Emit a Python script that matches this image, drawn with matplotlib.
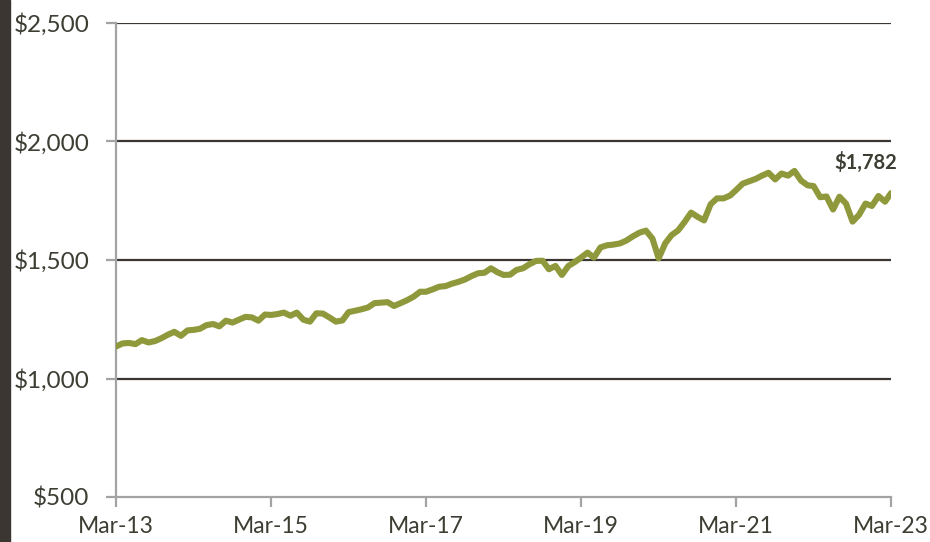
import matplotlib
matplotlib.use("Agg")
import matplotlib.pyplot as plt
import matplotlib.patches as mpatches
import numpy as np
import pandas as pd

# Monthly values, Mar-2013 .. Mar-2023
values = [
    1135, 1148, 1150, 1145, 1162, 1152, 1158, 1170, 1185, 1197,
    1180, 1203, 1205, 1210, 1225, 1230, 1220, 1244, 1236, 1248,
    1260, 1258, 1244, 1270, 1268, 1272, 1278, 1265, 1278, 1248,
    1240, 1275, 1274, 1258, 1240, 1245, 1280, 1286, 1292, 1300,
    1318, 1320, 1322, 1306, 1318, 1330, 1345, 1366, 1366, 1376,
    1387, 1390, 1400, 1408, 1418, 1432, 1444, 1446, 1465, 1448,
    1437, 1438, 1458, 1465, 1482, 1496, 1497, 1461, 1475, 1437,
    1475, 1492, 1510, 1531, 1510, 1553, 1562, 1565, 1570, 1582,
    1600, 1615, 1624, 1590, 1507, 1570, 1605, 1625, 1660, 1700,
    1682, 1667, 1735, 1760, 1760, 1772, 1795, 1822, 1832, 1842,
    1856, 1868, 1840, 1865, 1856, 1876, 1835, 1815, 1812, 1765,
    1768, 1713, 1767, 1738, 1662, 1690, 1738, 1728, 1770, 1746,
    1782,
]
dates = pd.date_range("2013-03-01", periods=len(values), freq="MS")
x_tick_labels = ["Mar-13", "Mar-15", "Mar-17", "Mar-19", "Mar-21", "Mar-23"]
x_tick_dates = pd.to_datetime(["2013-03-01", "2015-03-01", "2017-03-01",
                               "2019-03-01", "2021-03-01", "2023-03-01"])
y_ticks = [500, 1000, 1500, 2000, 2500]
end_label = "$1,782"

plt.rcParams['font.family'] = ['Lato', 'DejaVu Sans']

W, H = 930, 542
fig = plt.figure(figsize=(W / 100, H / 100), dpi=100)
ax = fig.add_axes([116 / W, 1 - 497 / H, (891 - 116) / W, (497 - 23) / H])

# dark strip at the left edge
fig.patches.append(mpatches.Rectangle((0, 0), 10 / W, 1, transform=fig.transFigure,
                                      color="#3b3631", zorder=0))

text_color = "#3d3d33"
grid_color = "#3b3631"
axis_gray = "#a3a3a3"

for yv in y_ticks[1:]:
    ax.axhline(yv, color=grid_color, lw=1.6, zorder=1)

ax.plot(dates, values, color="#8f993c", lw=4.4, solid_joinstyle="round",
        solid_capstyle="round", zorder=3)

ax.set_xlim(dates[0], dates[-1])
ax.set_ylim(500, 2500)
ax.set_yticks(y_ticks)
ax.set_yticklabels([f"${v:,}" for v in y_ticks])
ax.set_xticks(x_tick_dates)
ax.set_xticklabels(x_tick_labels)

for s in ["top", "right"]:
    ax.spines[s].set_visible(False)
for s in ["left", "bottom"]:
    ax.spines[s].set_color(axis_gray)
    ax.spines[s].set_linewidth(1.6)

ax.tick_params(axis="y", direction="out", length=7, width=1.6, color=axis_gray,
               labelsize=17.5, labelcolor=text_color, pad=12)
ax.tick_params(axis="x", direction="out", length=7, width=1.6, color=axis_gray,
               labelsize=16.5, labelcolor=text_color, pad=7)

ax.annotate(end_label, xy=(dates[-1], values[-1]), xytext=(-18, 22),
            textcoords="offset points", ha="center", va="center",
            fontsize=14.5, fontweight="bold", color=text_color, annotation_clip=False)

fig.savefig("out.png", dpi=100)
